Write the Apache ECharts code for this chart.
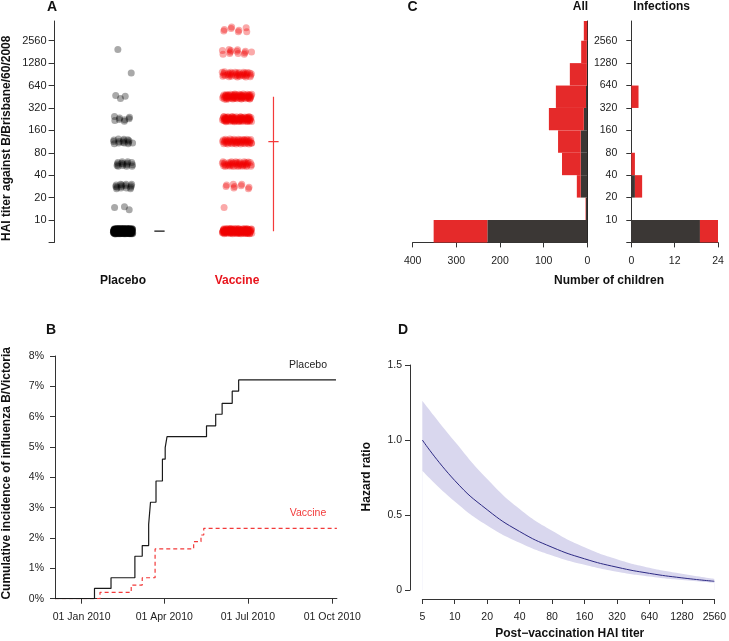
<!DOCTYPE html>
<html><head><meta charset="utf-8">
<script src="https://cdn.jsdelivr.net/npm/echarts@6/dist/echarts.min.js"></script>
<style>html,body{margin:0;padding:0;background:#fff}#c{width:729px;height:641px}</style>
</head><body><div id="c"></div>
<script>
// ---------- data ----------
const titerLabels = ['5','10','20','40','80','160','320','640','1280','2560'];
// counts per titer bin: <10, 10, 20, 40, 80, 160, 320, 640, 1280, >=2560
const placeboCounts = [229, 3, 15, 15, 15, 8, 3, 1, 1, 0];
const vaccineCounts = [123, 1, 9, 43, 52, 80, 69, 39, 13, 8];
const placeboInfections = [19, 0, 1, 0, 0, 0, 0, 0, 0, 0];
const vaccineInfections = [5, 0, 2, 1, 0, 0, 2, 0, 0, 0];
// lower quartile, median, upper quartile (titer bin positions)
const placeboSummary = [0.5, 0.5, 0.5];
const vaccineSummary = [0.5, 4.5, 6.5];
const groupNames = ['Placebo', 'Vaccine'];

const placeboDates = ['2009-12-03','2010-01-15','2010-02-02','2010-02-28','2010-03-08','2010-03-15','2010-03-17','2010-03-23','2010-03-30','2010-04-02','2010-04-04','2010-05-17','2010-05-27','2010-06-03','2010-06-14','2010-06-21','2010-10-05'];
const placeboIncidence = [0, 0.34, 0.69, 1.40, 1.75, 2.45, 3.18, 3.88, 4.60, 4.98, 5.34, 5.70, 6.08, 6.44, 6.84, 7.21, 7.21];
const vaccineDates = ['2009-12-03','2010-01-21','2010-02-24','2010-03-08','2010-03-22','2010-05-03','2010-05-11','2010-05-14','2010-10-06'];
const vaccineIncidence = [0, 0.21, 0.45, 0.69, 1.64, 1.88, 2.10, 2.32, 2.32];
const dateTicks = ['2010-01-01','2010-04-01','2010-07-01','2010-10-01'];
const dateTickLabels = ['01 Jan 2010','01 Apr 2010','01 Jul 2010','01 Oct 2010'];

const hazardRatio = [1.0, 0.73, 0.535, 0.39, 0.285, 0.208, 0.152, 0.111, 0.081, 0.058];
const hrLower = [0.795, 0.59, 0.43, 0.315, 0.23, 0.168, 0.122, 0.09, 0.066, 0.048];
const hrUpper = [1.262, 0.99, 0.74, 0.54, 0.395, 0.285, 0.205, 0.148, 0.108, 0.074];

// ---------- helpers ----------
const FONT = 'Liberation Sans, Arial, Helvetica, sans-serif';
const RED = '#e52a2a';
const DARK = '#3b3735';
const AX = '#333';
const dayOf = d => (Date.parse(d) - Date.parse('2010-01-01')) / 86400000;
const LOGMAX = 9.88;
const levels = titerLabels.map((_, i) => i);

function jitterPoints(counts, center, halfW, halfH) {
  const pts = [];
  counts.forEach((n, level) => {
    for (let i = 0; i < n; i++) {
      const u = ((i + 1) * 0.7548776662 + level * 0.31) % 1;
      const v = ((i + 1) * 0.5698402910 + level * 0.17) % 1;
      pts.push([center + (u * 2 - 1) * halfW, level + 0.5 + (v * 2 - 1) * halfH]);
    }
  });
  return pts;
}
function barsFrom(base, counts) {
  const out = [];
  counts.forEach((c, i) => { if (c > 0) out.push([i, i + 1, base ? base[i] : 0, (base ? base[i] : 0) + c]); });
  return out;
}
function rectItem(params, api) {
  const y0 = api.value(0), y1 = api.value(1), x0 = api.value(2), x1 = api.value(3);
  const p0 = api.coord([x0, y1]), p1 = api.coord([x1, y0]);
  const rect = { x: Math.min(p0[0], p1[0]), y: Math.min(p0[1], p1[1]),
    width: Math.abs(p1[0] - p0[0]), height: Math.abs(p1[1] - p0[1]) };
  const cs = params.coordSys;
  const c = echarts.graphic.clipRectByRect(rect, { x: cs.x, y: cs.y, width: cs.width, height: cs.height });
  return c && { type: 'rect', shape: c, style: { fill: api.visual('color') } };
}
// summary (quartile range + median tick) drawn as line series
function summarySeries(x, s, color) {
  const base = { type: 'line', xAxisIndex: 0, yAxisIndex: 0, showSymbol: false, silent: true,
    color: color, itemStyle: { color: color }, lineStyle: { color: color, width: 1.2, opacity: 1 }, z: 6 };
  return [
    Object.assign({}, base, { data: [[x, s[0]], [x, s[2]]] }),
    Object.assign({}, base, { data: [[x - 0.045, s[1]], [x + 0.045, s[1]]] })
  ];
}
const lab = (extra) => Object.assign({ color: '#222', fontSize: 10.5, fontFamily: FONT }, extra || {});
function logYAxis(gi, opts) {
  return Object.assign({
    gridIndex: gi, type: 'value', min: 0, max: LOGMAX,
    axisLine: { show: true, onZero: false, lineStyle: { color: AX } },
    axisTick: { show: true, length: 5, customValues: levels, lineStyle: { color: AX } },
    axisLabel: Object.assign(lab(), { customValues: levels.slice(1), formatter: v => titerLabels[Math.round(v)] }),
    splitLine: { show: false }
  }, opts || {});
}

const placeboPts = jitterPoints(placeboCounts, 1, 0.085, 0.12);
const vaccinePts = jitterPoints(vaccineCounts, 2, 0.13, 0.12);

const tx = (text, x, y, o, rot) => ({ type: 'text', x, y, rotation: rot || 0, style: Object.assign({ text, fill: '#111',
  font: 'bold 12px ' + FONT, align: 'center', verticalAlign: 'middle' }, o || {}) });

const option = {
  backgroundColor: '#fff',
  animation: false,
  textStyle: { fontFamily: FONT },
  grid: [
    { left: 54.6, top: 21, width: 239.4, height: 221.4 },
    { left: 412.7, top: 21, width: 174.6, height: 221.4 },
    { left: 631.3, top: 21, width: 86.7, height: 221.4 },
    { left: 55, top: 356, width: 281.9, height: 242.7 },
    { left: 422.3, top: 365, width: 293.7, height: 225 }
  ],
  xAxis: [
    { gridIndex: 0, type: 'value', min: 0.4, max: 2.5,
      axisLine: { show: false }, axisTick: { show: false }, splitLine: { show: false },
      axisLabel: { customValues: [1, 2], margin: 32, fontFamily: FONT,
        formatter: v => (Math.round(v) === 1 ? '{p|' + groupNames[0] + '}' : '{v|' + groupNames[1] + '}'),
        rich: { p: { color: '#111', fontWeight: 'bold', fontSize: 12, fontFamily: FONT },
                v: { color: '#e8141c', fontWeight: 'bold', fontSize: 12, fontFamily: FONT } } } },
    { gridIndex: 1, type: 'value', min: 0, max: 400, interval: 100, inverse: true,
      axisLine: { show: true, onZero: false, lineStyle: { color: AX } },
      axisTick: { length: 5, lineStyle: { color: AX } }, axisLabel: lab({ margin: 13 }), splitLine: { show: false } },
    { gridIndex: 2, type: 'value', min: 0, max: 24, interval: 12,
      axisLine: { show: true, onZero: false, lineStyle: { color: AX } },
      axisTick: { length: 5, lineStyle: { color: AX } }, axisLabel: lab({ margin: 13 }), splitLine: { show: false } },
    { gridIndex: 3, type: 'value', min: -29, max: 278,
      axisLine: { show: true, onZero: false, lineStyle: { color: AX } },
      axisTick: { length: 5, customValues: dateTicks.map(dayOf), lineStyle: { color: AX } },
      axisLabel: lab({ margin: 13, customValues: dateTicks.map(dayOf),
        formatter: v => dateTickLabels[dateTicks.map(dayOf).indexOf(Math.round(v))] || '' }),
      splitLine: { show: false } },
    { gridIndex: 4, type: 'value', min: 0, max: 9, interval: 1, offset: 9,
      axisLine: { show: true, onZero: false, lineStyle: { color: AX } },
      axisTick: { length: 5, lineStyle: { color: AX } },
      axisLabel: lab({ margin: 13, formatter: v => titerLabels[Math.round(v)] }), splitLine: { show: false } }
  ],
  yAxis: [
    logYAxis(0, { axisTick: { show: true, length: 6, customValues: levels, lineStyle: { color: AX } },
      axisLabel: Object.assign(lab({ fontSize: 11, margin: 8 }), { customValues: levels.slice(1), formatter: v => titerLabels[Math.round(v)] }) }),
    { gridIndex: 1, type: 'value', min: 0, max: LOGMAX, position: 'right',
      axisLine: { show: true, onZero: false, lineStyle: { color: '#222' } }, axisTick: { show: false },
      axisLabel: { show: false }, splitLine: { show: false } },
    logYAxis(2, { axisLabel: Object.assign(lab({ margin: 14 }), { customValues: levels.slice(1), formatter: v => titerLabels[Math.round(v)] }) }),
    { gridIndex: 3, type: 'value', min: 0, max: 8, interval: 1,
      axisLine: { show: true, onZero: false, lineStyle: { color: AX } },
      axisTick: { length: 5, lineStyle: { color: AX } },
      axisLabel: lab({ margin: 11, formatter: v => v + '%' }), splitLine: { show: false } },
    { gridIndex: 4, type: 'value', min: 0, max: 1.5, interval: 0.5, offset: 12.3,
      axisLine: { show: true, onZero: false, lineStyle: { color: AX } },
      axisTick: { length: 5, lineStyle: { color: AX } },
      axisLabel: lab({ margin: 8, formatter: v => (v === 0 ? '0' : v.toFixed(1)) }), splitLine: { show: false } }
  ],
  series: [
    // Panel A
    { type: 'scatter', xAxisIndex: 0, yAxisIndex: 0, symbolSize: 7, data: placeboPts,
      itemStyle: { color: 'rgba(0,0,0,0.42)' } },
    { type: 'scatter', xAxisIndex: 0, yAxisIndex: 0, symbolSize: 7, data: vaccinePts,
      itemStyle: { color: 'rgba(240,0,0,0.42)' } },
    ...summarySeries(1.32, placeboSummary, '#111111'),
    ...summarySeries(2.32, vaccineSummary, '#f43a3a'),
    // Panel C
    { type: 'custom', xAxisIndex: 1, yAxisIndex: 1, renderItem: rectItem, itemStyle: { color: DARK },
      data: barsFrom(null, placeboCounts) },
    { type: 'custom', xAxisIndex: 1, yAxisIndex: 1, renderItem: rectItem, itemStyle: { color: RED },
      data: barsFrom(placeboCounts, vaccineCounts) },
    { type: 'custom', xAxisIndex: 2, yAxisIndex: 2, renderItem: rectItem, itemStyle: { color: DARK },
      data: barsFrom(null, placeboInfections) },
    { type: 'custom', xAxisIndex: 2, yAxisIndex: 2, renderItem: rectItem, itemStyle: { color: RED },
      data: barsFrom(placeboInfections, vaccineInfections) },
    // Panel B
    { type: 'line', xAxisIndex: 3, yAxisIndex: 3, step: 'end', showSymbol: false,
      data: placeboDates.map((d, i) => [dayOf(d), placeboIncidence[i]]),
      lineStyle: { color: '#1a1a1a', width: 1.2 }, z: 3 },
    { type: 'line', xAxisIndex: 3, yAxisIndex: 3, step: 'end', showSymbol: false,
      data: vaccineDates.map((d, i) => [dayOf(d), vaccineIncidence[i]]),
      lineStyle: { color: '#f23a3a', width: 1.2, type: [4, 3] }, z: 2 },
    // Panel D: band = upper area minus white area under lower bound
    { type: 'line', xAxisIndex: 4, yAxisIndex: 4, smooth: true, showSymbol: false,
      data: levels.map(i => [i, hrUpper[i]]), lineStyle: { width: 0, opacity: 0 },
      areaStyle: { color: '#d9d7ee', opacity: 1 }, z: 1 },
    { type: 'line', xAxisIndex: 4, yAxisIndex: 4, smooth: true, showSymbol: false,
      data: levels.map(i => [i, hrLower[i]]), lineStyle: { width: 0, opacity: 0 },
      areaStyle: { color: '#ffffff', opacity: 1 }, z: 2 },
    { type: 'line', xAxisIndex: 4, yAxisIndex: 4, smooth: true, showSymbol: false,
      data: levels.map(i => [i, hazardRatio[i]]), lineStyle: { color: '#2d2a84', width: 1 }, z: 5 }
  ],
  graphic: [
    tx('A', 52, 7, { font: 'bold 14px ' + FONT }),
    tx('C', 412.5, 7, { font: 'bold 14px ' + FONT }),
    tx('B', 51, 330, { font: 'bold 14px ' + FONT }),
    tx('D', 403, 330, { font: 'bold 14px ' + FONT }),
    tx('All', 580.5, 7),
    tx('Infections', 661.7, 7),
    tx('Number of children', 609, 281),
    tx('Post\u2212vaccination HAI titer', 569.7, 634),
    tx('Placebo', 308, 365, { font: '10.5px ' + FONT, fill: '#222' }),
    tx('Vaccine', 308, 513, { font: '10.5px ' + FONT, fill: '#f23a3a' }),
    tx('HAI titer against B/Brisbane/60/2008', 7, 138.3, null, Math.PI / 2),
    tx('Cumulative incidence of influenza B/Victoria', 7, 473.3, null, Math.PI / 2),
    tx('Hazard ratio', 366.7, 476.7, null, Math.PI / 2)
  ]
};
echarts.init(document.getElementById('c'), null, { renderer: 'canvas' }).setOption(option);
</script></body></html>
